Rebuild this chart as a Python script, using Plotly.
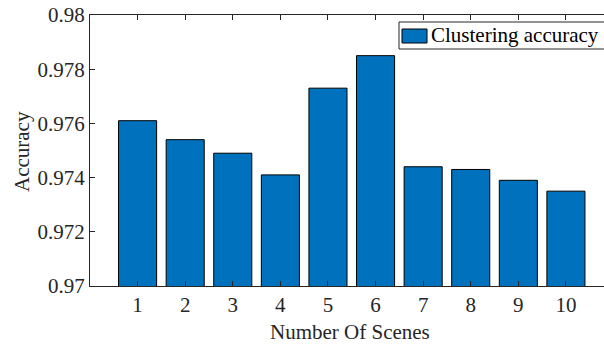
import plotly.graph_objects as go

scenes = [1, 2, 3, 4, 5, 6, 7, 8, 9, 10]
accuracy = [0.9761, 0.9754, 0.9749, 0.9741, 0.9773, 0.9785, 0.9744, 0.9743, 0.9739, 0.9735]
series_name = "Clustering accuracy"
y_ticks = [0.97, 0.972, 0.974, 0.976, 0.978, 0.98]
y_tick_labels = ["0.97", "0.972", "0.974", "0.976", "0.978", "0.98"]

FONT = "Liberation Serif"
AX = "#262626"
BAR = "#0072BD"

W, H = 604, 345
L, R, T, B = 90, 0, 15, 59
PW, PH = W - L - R, H - T - B


def px(xp):
    return (xp - L) / PW


def py(yp):
    return (H - B - yp) / PH


fig = go.Figure()
fig.add_trace(go.Bar(
    x=scenes, y=accuracy, name=series_name,
    marker=dict(color=BAR, line=dict(color="black", width=1)),
    showlegend=False,
))

shapes = [
    # legend box
    dict(type="rect", xref="paper", yref="paper", x0=px(399), x1=px(612), y0=py(49), y1=py(22),
         line=dict(color=AX, width=1), fillcolor="white", layer="above"),
    # legend swatch
    dict(type="rect", xref="paper", yref="paper", x0=px(402), x1=px(427), y0=py(43), y1=py(29),
         line=dict(color="black", width=1), fillcolor=BAR, layer="above"),
]

fig.update_layout(
    width=W, height=H,
    margin=dict(l=L, r=R, t=T, b=B),
    paper_bgcolor="white", plot_bgcolor="white",
    font=dict(family=FONT, size=21, color=AX),
    bargap=0.2,
    showlegend=False,
    xaxis=dict(
        range=[0, 10.8], tickmode="array", tickvals=scenes,
        ticktext=[str(s) for s in scenes],
        showline=True, linecolor=AX, linewidth=1, mirror="ticks",
        ticks="inside", ticklen=5, tickcolor=AX, showgrid=False, zeroline=False,
        tickfont=dict(family=FONT, size=21, color=AX), automargin=False,
    ),
    yaxis=dict(
        range=[0.97, 0.98], tickmode="array", tickvals=y_ticks, ticktext=y_tick_labels,
        showline=True, linecolor=AX, linewidth=1, mirror=False,
        ticks="inside", ticklen=5, tickcolor=AX, showgrid=False, zeroline=False,
        tickfont=dict(family=FONT, size=21, color=AX), automargin=False,
    ),
    shapes=shapes,
    annotations=[
        dict(text=series_name, xref="paper", yref="paper",
             x=px(429), y=py(35.5), xanchor="left", yanchor="middle",
             showarrow=False, font=dict(family=FONT, size=21, color="black")),
        dict(text="Number Of Scenes", xref="paper", yref="paper",
             x=px(350), y=py(332), xanchor="center", yanchor="middle",
             showarrow=False, font=dict(family=FONT, size=21, color=AX)),
        dict(text="Accuracy", xref="paper", yref="paper",
             x=px(22), y=py(152), xanchor="center", yanchor="middle",
             textangle=-90, showarrow=False, font=dict(family=FONT, size=21, color=AX)),
    ],
)

fig.write_html("out.html")
